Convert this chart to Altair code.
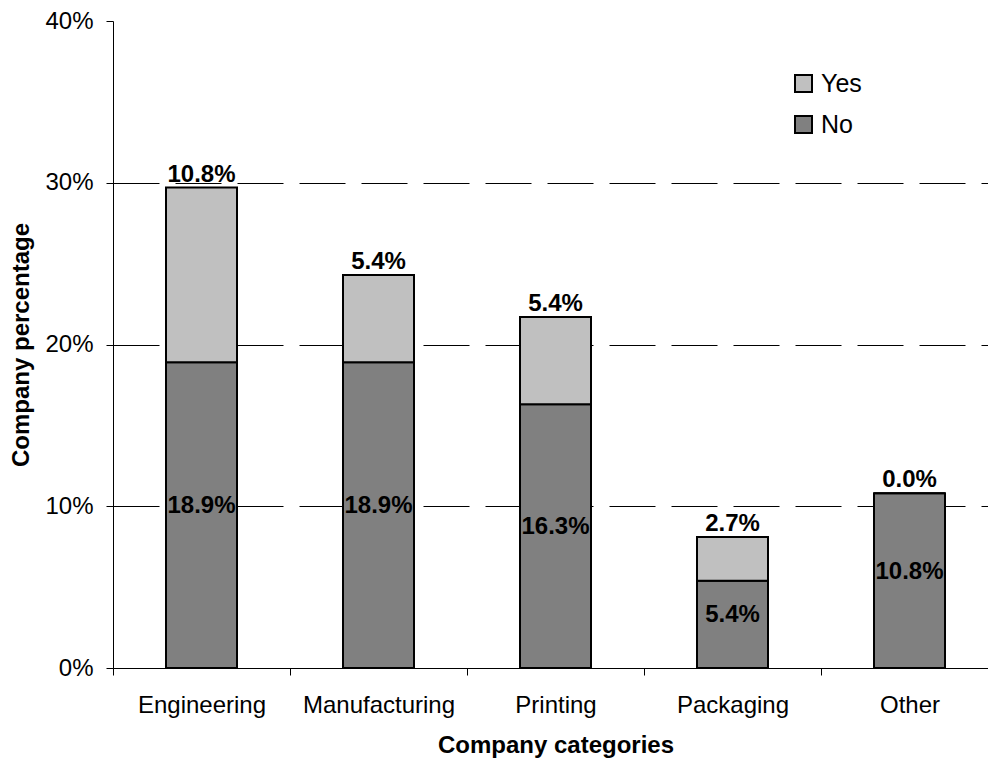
import altair as alt
import pandas as pd

categories = ["Engineering", "Manufacturing", "Printing", "Packaging", "Other"]
no_values = [18.9, 18.9, 16.3, 5.4, 10.8]
yes_values = [10.8, 5.4, 5.4, 2.7, 0.0]
y_ticks = [0, 0.1, 0.2, 0.3, 0.4]
series = ["Yes", "No"]
series_colors = ["#C0C0C0", "#808080"]

FONT = "Arial, Liberation Sans"

long_rows = []
for c, n, y in zip(categories, no_values, yes_values):
    long_rows.append({"category": c, "status": "No", "value": n / 100, "ord": 0})
    long_rows.append({"category": c, "status": "Yes", "value": y / 100, "ord": 1})
long_df = pd.DataFrame(long_rows)

wide_df = pd.DataFrame({
    "category": categories,
    "no": [v / 100 for v in no_values],
    "yes": [v / 100 for v in yes_values],
})

x_enc = alt.X(
    "category:N",
    sort=categories,
    scale=alt.Scale(range=[0, 885], paddingInner=0, paddingOuter=0),
    axis=alt.Axis(
        title="Company categories",
        labelAngle=0,
        tickBand="extent",
        tickSize=7,
        labelPadding=18,
        titlePadding=16,
        labelFontSize=24,
        titleFontSize=24,
        titleFontWeight="bold",
        labelColor="black",
        titleColor="black",
        domainColor="black",
        tickColor="black",
        grid=False,
    ),
)

y_scale = alt.Scale(domain=[0, 0.4], nice=False, zero=True)

bars = alt.Chart(long_df).mark_bar(size=71, stroke="black", strokeWidth=2).encode(
    x=x_enc,
    y=alt.Y(
        "value:Q",
        stack="zero",
        scale=y_scale,
        axis=alt.Axis(
            title="Company percentage",
            values=y_ticks,
            format=".0%",
            tickSize=7,
            labelPadding=13,
            titlePadding=11,
            labelFontSize=24,
            titleFontSize=24,
            titleFontWeight="bold",
            labelColor="black",
            titleColor="black",
            domainColor="black",
            tickColor="black",
            grid=True,
            gridColor="black",
            gridWidth=1,
            gridDash=[46, 16],
            gridOpacity={"condition": {"test": "datum.value >= 0.39", "value": 0}, "value": 1},
        ),
    ),
    color=alt.Color(
        "status:N",
        scale=alt.Scale(domain=series, range=series_colors),
        legend=alt.Legend(
            title=None,
            orient="none",
            legendX=678,
            legendY=50,
            symbolType="square",
            symbolSize=289,
            symbolStrokeColor="black",
            symbolStrokeWidth=2,
            labelFontSize=25,
            labelColor="black",
            labelOffset=5,
            rowPadding=15,
            padding=0,
        ),
    ),
    order=alt.Order("ord:Q"),
)

no_labels = alt.Chart(wide_df).transform_calculate(
    mid="datum.no / 2"
).mark_text(fontSize=24, fontWeight="bold", color="black", baseline="middle", dy=-9).encode(
    x=alt.X("category:N", sort=categories),
    y=alt.Y("mid:Q", scale=y_scale),
    text=alt.Text("no:Q", format=".1%"),
)

yes_labels = alt.Chart(wide_df).transform_calculate(
    total="datum.no + datum.yes"
).mark_text(fontSize=24, fontWeight="bold", color="black", baseline="alphabetic", dy=-6).encode(
    x=alt.X("category:N", sort=categories),
    y=alt.Y("total:Q", scale=y_scale),
    text=alt.Text("yes:Q", format=".1%"),
)

chart = alt.layer(bars, no_labels, yes_labels).properties(
    width=875,
    height=647,
    autosize=alt.AutoSizeParams(type="none"),
    padding={"left": 113, "top": 21, "right": 0, "bottom": 93},
).configure(
    font=FONT,
).configure_view(
    stroke=None
)

chart.save("out.html", embed_options={"renderer": "svg", "actions": False})
